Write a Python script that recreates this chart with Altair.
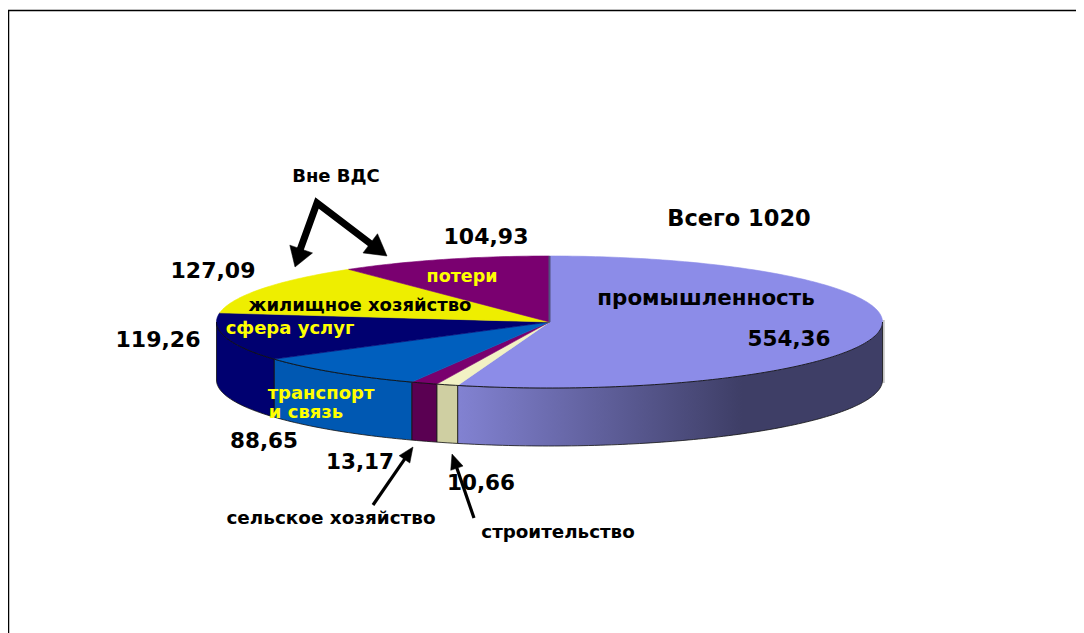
import math
import altair as alt
import pandas as pd

# --- data ---
sectors = ["промышленность", "строительство", "сельское хозяйство", "транспорт и связь",
           "сфера услуг", "жилищное хозяйство", "потери"]
values = [554.36, 10.66, 13.17, 88.65, 119.26, 127.09, 104.93]
top_colors = ["#8C8CE8", "#F2F2C4", "#7A006E", "#005FBE", "#000070", "#EEEE00", "#7A0070"]
wall_colors = ["#8282D2", "#CFCFA2", "#5A0052", "#0058B2", "#000070", "#EEEE00", "#7A0070"]

label_texts = ["Вне ВДС", "104,93", "Всего 1020", "127,09", "119,26", "88,65", "13,17", "10,66", "554,36",
               "промышленность", "потери", "жилищное хозяйство", "сфера услуг", "транспорт", "и связь",
               "сельское хозяйство", "строительство"]
label_x = [336, 486, 739, 213, 158, 264, 360, 481, 789, 706, 462, 360, 290, 321, 306, 331, 558]
label_y = [177, 237, 219, 271, 340, 442, 463, 484, 340, 299, 277, 306, 329, 394, 413, 518, 533]
label_size = [18, 22, 22.5, 22, 22, 21.5, 21.5, 21.5, 21.5, 21.4, 17.5, 18, 18, 18, 18, 18.4, 18.3]
label_color = ["#000000"] * 9 + ["#000000", "#FFFF00", "#000000", "#FFFF00", "#FFFF00", "#FFFF00", "#000000", "#000000"]

# --- layout, in page pixels ---
CX, CY, RX, RY, DEPTH = 549.5, 322, 333, 66, 58
X_SCALE = alt.Scale(domain=[8, 1076], nice=False, zero=False)
Y_SCALE = alt.Scale(domain=[8, 633], nice=False, zero=False, reverse=True)


def enc(chart):
    return chart.encode(
        x=alt.X("x:Q", scale=X_SCALE, axis=None),
        y=alt.Y("y:Q", scale=Y_SCALE, axis=None),
        order=alt.Order("i:Q"),
    )


def shape(points, **mark):
    df = pd.DataFrame({"x": [p[0] for p in points], "y": [p[1] for p in points], "i": range(len(points))})
    return enc(alt.Chart(df).mark_line(clip=False, **mark))


def rim(deg, dy=0):
    a = math.radians(deg)
    return (CX + RX * math.sin(a), CY - RY * math.cos(a) + dy)


def arc(a0, a1, dy=0):
    n = max(2, int(abs(a1 - a0)) + 2)
    return [rim(a0 + (a1 - a0) * k / (n - 1), dy) for k in range(n)]


def head(tip, tail, length, width):
    dx, dy = tail[0] - tip[0], tail[1] - tip[1]
    d = math.hypot(dx, dy)
    ux, uy = dx / d, dy / d
    bx, by = tip[0] + ux * length, tip[1] + uy * length
    return [tip, (bx - uy * width / 2, by + ux * width / 2), (bx + uy * width / 2, by - ux * width / 2), tip]


total = sum(values)
bounds = [0.0]
for v in values:
    bounds.append(bounds[-1] + v / total * 360)

layers = []

# frame
layers.append(shape([(8.5, 633), (8.5, 10.5), (1076, 10.5)], stroke="#000000", strokeWidth=1.5))
# thin grey shadow at the right of the wall
layers.append(shape([(883.5, 320), (883.5, 383)], stroke="#C4C4C4", strokeWidth=2.5))

# side walls
for k, col in enumerate(wall_colors):
    a0, a1 = max(bounds[k], 90), min(bounds[k + 1], 270)
    if a1 <= a0:
        continue
    pts = arc(a0, a1) + arc(a1, a0, DEPTH)
    pts.append(pts[0])
    fill = col
    if k == 0:
        fill = alt.Gradient(gradient="linear", x1=1, x2=0, y1=0, y2=0, stops=[
            alt.GradientStop(color="#3E3E66", offset=0),
            alt.GradientStop(color="#3E3E66", offset=0.33),
            alt.GradientStop(color="#8282D2", offset=1),
        ])
    layers.append(shape(pts, fill=fill, stroke="#111111", strokeWidth=0.8))

# top wedges
for k, col in enumerate(top_colors):
    pts = [(CX, CY)] + arc(bounds[k], bounds[k + 1]) + [(CX, CY)]
    layers.append(shape(pts, fill=col, stroke=col, strokeWidth=0.6))

# front rim and the dark seam at 12 o'clock
layers.append(shape(arc(90, 270), stroke="#111111", strokeWidth=0.9))
layers.append(shape([rim(0), (CX, CY)], stroke="#50507E", strokeWidth=2))

# big "Вне ВДС" arrows
apex = (317, 203)
left_tip, right_tip = (295, 267), (387, 256)
layers.append(shape([(300, 250), apex, (371, 244)], stroke="#000000", strokeWidth=7, strokeJoin="miter"))
layers.append(shape(head(left_tip, apex, 19, 24), fill="#000000", stroke="#000000", strokeWidth=0.5))
layers.append(shape(head(right_tip, apex, 21, 24), fill="#000000", stroke="#000000", strokeWidth=0.5))

# small arrows
for tail, tip in [((373, 505), (413, 447)), ((474, 518), (452, 454))]:
    ux, uy = tail[0] - tip[0], tail[1] - tip[1]
    d = math.hypot(ux, uy)
    layers.append(shape([tail, (tip[0] + ux / d * 12, tip[1] + uy / d * 12)], stroke="#000000", strokeWidth=3.2))
    layers.append(shape(head(tip, tail, 15, 13), fill="#000000", stroke="#000000", strokeWidth=0.5))

# texts
labels = pd.DataFrame({"t": label_texts, "x": label_x, "y": label_y, "s": label_size, "c": label_color})
layers.append(
    alt.Chart(labels).mark_text(font="DejaVu Sans", fontWeight="bold", baseline="middle", align="center").encode(
        x=alt.X("x:Q", scale=X_SCALE, axis=None),
        y=alt.Y("y:Q", scale=Y_SCALE, axis=None),
        text="t:N",
        size=alt.Size("s:Q", scale=None, legend=None),
        color=alt.Color("c:N", scale=None, legend=None),
    )
)

chart = alt.layer(*layers).properties(
    width=1068, height=625, padding=0,
    autosize=alt.AutoSizeParams(type="none"),
    background="#FFFFFF",
).configure_view(stroke=None)

chart.save("out.html", embed_options={"renderer": "svg", "actions": False})
